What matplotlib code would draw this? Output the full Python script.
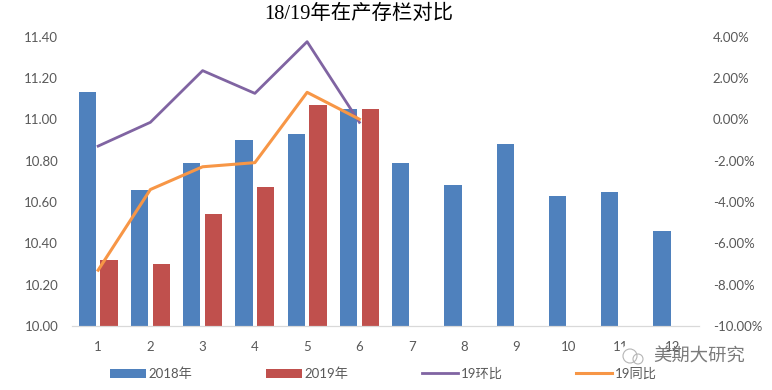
import matplotlib
matplotlib.use("Agg")
import matplotlib.pyplot as plt
import numpy as np
from matplotlib.patches import Circle

plt.rcParams['font.family'] = ['Lato', 'Noto Sans CJK SC', 'DejaVu Sans']

months = [1, 2, 3, 4, 5, 6, 7, 8, 9, 10, 11, 12]
stock_2018 = [11.13, 10.66, 10.79, 10.90, 10.93, 11.05, 10.79, 10.68, 10.88, 10.63, 10.65, 10.46]
stock_2019 = [10.32, 10.30, 10.54, 10.67, 11.07, 11.05]
mom_19 = [-1.3, -0.15, 2.35, 1.25, 3.75, -0.15]
yoy_19 = [-7.3, -3.4, -2.3, -2.1, 1.3, 0.0]
left_ticks = [10.0, 10.2, 10.4, 10.6, 10.8, 11.0, 11.2, 11.4]
right_ticks = [-10, -8, -6, -4, -2, 0, 2, 4]

grey = '#595959'
blue = '#4f81bd'
red = '#c0504d'
purple = '#8064a2'
orange = '#f79646'

W, H = 772, 390
fig = plt.figure(figsize=(W / 100, H / 100), dpi=100)
ax = fig.add_axes([72 / W, 1 - 326 / H, (699 - 72) / W, (326 - 36.5) / H])

x = np.array(months)
x19 = x[:len(stock_2019)]
b1 = ax.bar(x - 0.21, stock_2018, width=0.33, color=blue, label='2018年')
b2 = ax.bar(x19 + 0.21, stock_2019, width=0.33, color=red, label='2019年')
ax.set_xlim(0.5, 12.5)
ax.set_ylim(10, 11.4)
ax.set_xticks(x)
ax.set_yticks(left_ticks)
ax.set_yticklabels(['%.2f' % v for v in left_ticks])
ax.tick_params(length=0, labelsize=9.5, labelcolor=grey)
ax.tick_params(axis='x', pad=11)
ax.tick_params(axis='y', pad=10)

ax2 = ax.twinx()
l1, = ax2.plot(x19, mom_19, color=purple, lw=2.0, label='19环比')
l2, = ax2.plot(x19, yoy_19, color=orange, lw=2.2, label='19同比')
ax2.set_ylim(-10, 4)
ax2.set_yticks(right_ticks)
ax2.set_yticklabels(['%.2f%%' % v for v in right_ticks])
ax2.tick_params(length=0, labelsize=9.5, labelcolor=grey, pad=10)

for a in (ax, ax2):
    for s in ('top', 'left', 'right'):
        a.spines[s].set_visible(False)
    a.spines['bottom'].set_color('#d9d9d9')

fig.text(359 / W, 1 - 14.5 / H, '18/19年在产存栏对比', ha='center', va='center', fontsize=14.7,
         family=['Liberation Serif', 'Noto Sans CJK SC'], color='black')

fig.legend(handles=[b1, b2, l1, l2], loc='center left', bbox_to_anchor=(110 / W, 1 - 373.5 / H),
           ncol=4, frameon=False, fontsize=9.5, labelcolor=grey, handlelength=2.7,
           handletextpad=0.2, columnspacing=5.6, borderpad=0, borderaxespad=0, handleheight=0.7)

# 水印
ax_icon = fig.add_axes([618 / W, 1 - 372 / H, 30 / W, 30 / H], zorder=5)
ax_icon.set_xlim(0, 30)
ax_icon.set_ylim(30, 0)
ax_icon.axis('off')
ax_icon.add_patch(Circle((15, 15), 13, color='white'))
ax_icon.add_patch(Circle((12, 14), 7, fill=False, ec='#b5b5b5', lw=0.8))
ax_icon.add_patch(Circle((20, 17), 5, fill=False, ec='#b5b5b5', lw=0.8))
fig.text(653 / W, 1 - 357 / H, '美期大研究', ha='left', va='center', fontsize=13.2, color='#7a7a7a',
         family=['Noto Sans CJK SC'], zorder=6)

fig.savefig('out.png', dpi=100)
